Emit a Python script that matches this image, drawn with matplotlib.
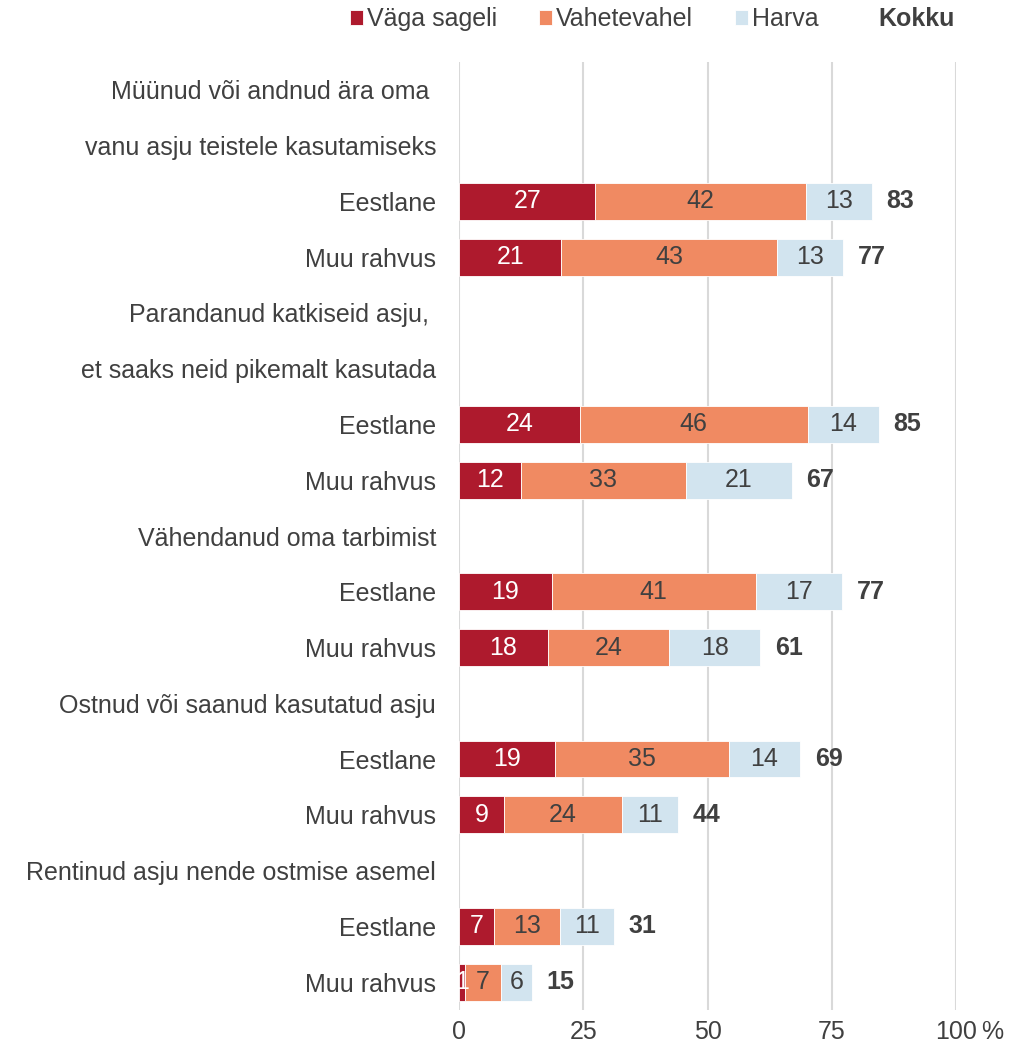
import matplotlib.pyplot as plt
from matplotlib.patches import Rectangle

plt.rcParams['font.family'] = ['Liberation Sans', 'DejaVu Sans']

# rows from top to bottom; heading rows have no bars
rows = ["Müünud või andnud ära oma ", "vanu asju teistele kasutamiseks",
        "Eestlane", "Muu rahvus",
        "Parandanud katkiseid asju, ", "et saaks neid pikemalt kasutada",
        "Eestlane", "Muu rahvus",
        "Vähendanud oma tarbimist",
        "Eestlane", "Muu rahvus",
        "Ostnud või saanud kasutatud asju",
        "Eestlane", "Muu rahvus",
        "Rentinud asju nende ostmise asemel",
        "Eestlane", "Muu rahvus"]
bar_rows = [2, 3, 6, 7, 9, 10, 12, 13, 15, 16]

vaga_sageli = [27.4, 20.6, 24.3, 12.4, 18.6, 17.9, 19.3, 9.1, 7.0, 1.2]
vahetevahel = [42.4, 43.3, 45.8, 33.2, 41.1, 24.4, 35.0, 23.6, 13.3, 7.3]
harva = [13.3, 13.3, 14.4, 21.3, 17.3, 18.3, 14.3, 11.3, 10.9, 6.2]
kokku = [83, 77, 85, 67, 77, 61, 69, 44, 31, 15]

series = ["Väga sageli", "Vahetevahel", "Harva"]
colors = ["#AE1A2D", "#F08A62", "#D2E4EF"]
label_colors = ["white", "#404040", "#404040"]
txt = "#404040"
fs = 18

fig = plt.figure(figsize=(10.27, 10.51), dpi=100)
ax = fig.add_axes([0.447, 0.039, 0.484, 0.902])

left = [0] * len(bar_rows)
for name, vals, c, lc in zip(series, [vaga_sageli, vahetevahel, harva], colors, label_colors):
    bars = ax.barh(bar_rows, vals, left=left, height=0.66, color=c, label=name,
                   edgecolor="white", linewidth=0.6, zorder=3)
    for b, v in zip(bars, vals):
        x = b.get_x() + b.get_width() / 2
        ax.text(x, b.get_y() + b.get_height() / 2, f"{v:.0f}", ha="center", va="center",
                color=lc, fontsize=fs, zorder=4)
    left = [l + v for l, v in zip(left, vals)]

for y, end, tot in zip(bar_rows, left, kokku):
    ax.annotate(str(tot), (end, y), xytext=(10.5, 0), textcoords="offset points",
                ha="left", va="center", color=txt, fontsize=fs, fontweight="bold")

ax.set_xlim(0, 100)
ax.set_ylim(16.5, -0.5)
ax.set_yticks(range(len(rows)))
ax.set_yticklabels(rows, fontsize=fs, color=txt)
ax.set_xticks([0, 25, 50, 75, 100])
ax.set_xticklabels(["0", "25", "50", "75", "100"], fontsize=fs, color=txt)
ax.tick_params(length=0, pad=16.5, axis="y")
ax.tick_params(length=0, pad=7, axis="x")
ax.annotate("%", (100, 0), xycoords=("data", "axes fraction"), xytext=(18, -7),
            textcoords="offset points", ha="left", va="top", fontsize=fs, color=txt)
ax.grid(axis="x", color="#D9D9D9", linewidth=1.5, zorder=0)
for s in ax.spines.values():
    s.set_visible(False)

handles, labels = ax.get_legend_handles_labels()
handles.append(Rectangle((0, 0), 1, 1, fill=False, edgecolor="none"))
labels.append("Kokku")
leg = fig.legend(handles, labels, loc="upper left", bbox_to_anchor=(0.341, 0.993),
                 ncol=4, frameon=False, fontsize=fs, handlelength=0.52,
                 handleheight=0.52, handletextpad=0.16, columnspacing=1.68,
                 borderpad=0, borderaxespad=0, labelcolor=txt)
leg.get_texts()[-1].set_fontweight("bold")

plt.savefig("out.png", dpi=100)
